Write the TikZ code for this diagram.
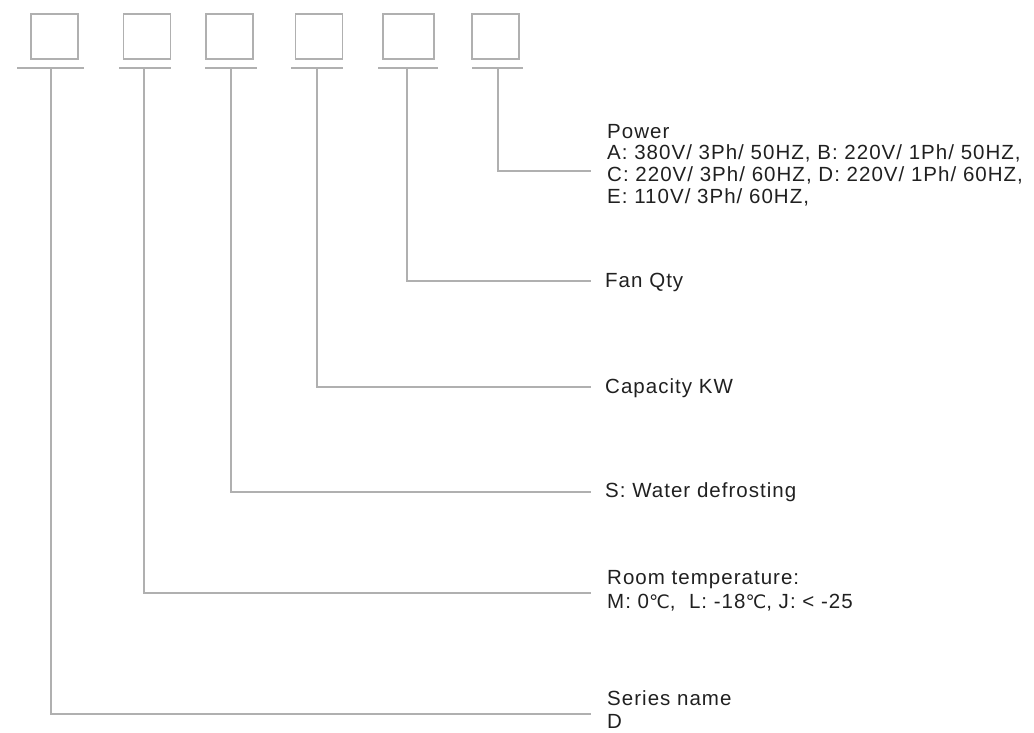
\documentclass[tikz,border=0pt]{standalone}
\usepackage{fontspec}
\setmainfont{Liberation Sans}[LetterSpace=5]
\newfontfamily\degfont{DejaVu Sans}
\usepackage{tikz}

\definecolor{linegray}{HTML}{B0B0B0}
\definecolor{textgray}{HTML}{202020}
\newcommand{\degc}{{\degfont\fontsize{18.5}{22}\selectfont ℃}}

\begin{document}
\begin{tikzpicture}[x=1pt, y=-1pt,
	every node/.style={font=\fontsize{20.5}{22}\selectfont, text=textgray},
	codebox/.style={draw=linegray, line width=1.8pt, minimum width=47pt, minimum height=45pt, inner sep=0pt},
	lead/.style={draw=linegray, line width=2.2pt},
	lbl/.style={anchor=base west, align=left, inner sep=0pt}]
	\useasboundingbox (0,0) rectangle (1034,733);
	% code boxes
	\node[codebox] (b1) at (54.5,36.5) {};
	\node[codebox] (b2) at (147,36.5) {};
	\node[codebox] (b3) at (229.5,36.5) {};
	\node[codebox] (b4) at (319,36.5) {};
	\node[codebox, minimum width=51pt] (b5) at (408.5,36.5) {};
	\node[codebox] (b6) at (495.5,36.5) {};
	% bars under the boxes
	\draw[lead] (17,68) -- (84,68);
	\draw[lead] (119,68) -- (171,68);
	\draw[lead] (205,68) -- (257,68);
	\draw[lead] (291,68) -- (343,68);
	\draw[lead] (378,68) -- (438,68);
	\draw[lead] (472,68) -- (523,68);
	\coordinate (u1) at (51,68);
	\coordinate (u2) at (144,68);
	\coordinate (u3) at (231,68);
	\coordinate (u4) at (317,68);
	\coordinate (u5) at (407,68);
	\coordinate (u6) at (498,68);
	% ends of the leaders
	\coordinate (e1) at (591,714);
	\coordinate (e2) at (591,593);
	\coordinate (e3) at (591,492);
	\coordinate (e4) at (591,387);
	\coordinate (e5) at (591,281);
	\coordinate (e6) at (591,171);
	% labels (base = last line)
	\node[lbl] (power) at (607,204) {Power\\A: 380V/ 3Ph/ 50HZ, B: 220V/ 1Ph/ 50HZ,\\C: 220V/ 3Ph/ 60HZ, D: 220V/ 1Ph/ 60HZ,\\E: 110V/ 3Ph/ 60HZ,};
	\node[lbl] (fan) at (605,287) {Fan Qty};
	\node[lbl] (cap) at (605,393) {Capacity KW};
	\node[lbl] (defrost) at (605,497) {S: Water defrosting};
	\node[lbl] (room) at (607,608) {Room temperature:\\[2pt]M: 0\degc,\ \ L: -18\degc, J: < -25};
	\node[lbl] (series) at (607,728.5) {Series name\\[1pt]D};
	% leaders
	\draw[lead] (u1) |- (e1);
	\draw[lead] (u2) |- (e2);
	\draw[lead] (u3) |- (e3);
	\draw[lead] (u4) |- (e4);
	\draw[lead] (u5) |- (e5);
	\draw[lead] (u6) |- (e6);
\end{tikzpicture}
\end{document}
